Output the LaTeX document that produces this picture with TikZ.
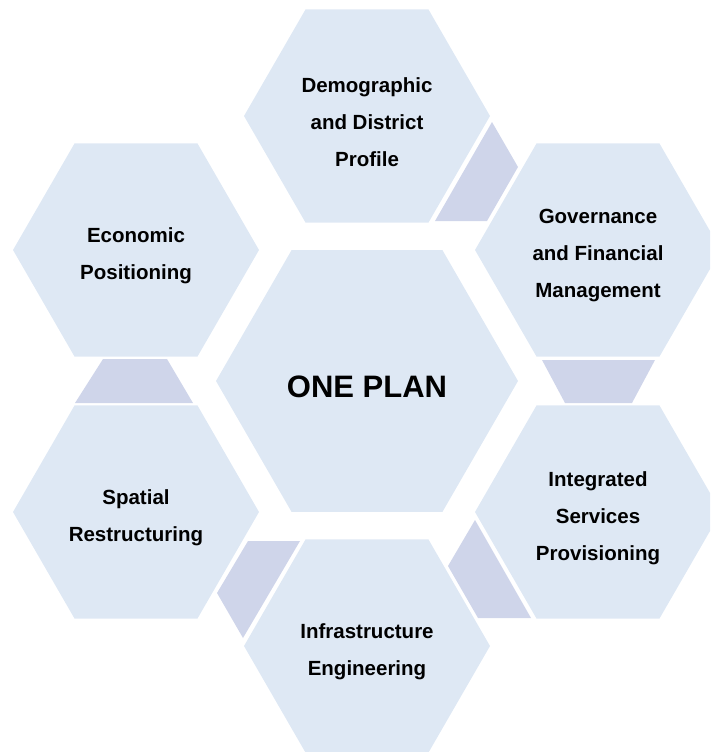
\documentclass[tikz,border=0pt]{standalone}
\usepackage{fontspec}
\setmainfont{Liberation Sans}
\usetikzlibrary{shapes.geometric}
\definecolor{hexblue}{RGB}{222,232,244}
\definecolor{linkblue}{RGB}{207,213,234}
\begin{document}
\begin{tikzpicture}[x=1pt,y=-1pt,
    hexbig/.style={regular polygon,regular polygon sides=6,minimum size=302pt,inner sep=0pt,fill=hexblue},
    hexsmall/.style={regular polygon,regular polygon sides=6,minimum size=246pt,inner sep=0pt,fill=hexblue},
    hexlabel/.style={align=center,font=\bfseries\fontsize{20.5}{37}\selectfont},
    linkpiece/.style={fill=linkblue}]
  \useasboundingbox (0,0) rectangle (710,752);
  \clip (0,0) rectangle (710,752);
        %% hexagons
        \node[hexbig] (plan) at (367,381) {};
        \node[hexsmall] (demo) at (367,116) {};
        \node[hexsmall] (gov) at (598,250) {};
        \node[hexsmall] (serv) at (598,512) {};
        \node[hexsmall] (infra) at (367,646) {};
        \node[hexsmall] (spat) at (136,512) {};
        \node[hexsmall] (econ) at (136,250) {};
        %% pieces between the outer hexagons
        \fill[linkpiece] (492,122) -- (518,167) -- (487,221) -- (435,221) -- cycle;
        \fill[linkpiece] (542,360) -- (655,360) -- (632,403) -- (565,403) -- cycle;
        \fill[linkpiece] (475,520) -- (531,618) -- (478,618) -- (448,566) -- cycle;
        \fill[linkpiece] (248,541) -- (300,541) -- (243,638) -- (217,593) -- cycle;
        \fill[linkpiece] (103,359) -- (167,359) -- (193,403) -- (75,403) -- cycle;
        %% texts
        \node[font=\bfseries\fontsize{31}{37}\selectfont] (planText) at ([yshift=-6pt]plan.center) {ONE PLAN};
        \node[hexlabel] (demoText) at ([yshift=-6pt]demo.center) {Demographic\\and District\\Profile};
        \node[hexlabel] (govText) at ([yshift=-6pt]gov.center) {Governance\\and Financial\\Management};
        \node[hexlabel] (servText) at ([yshift=-6pt]serv.center) {Integrated\\Services\\Provisioning};
        \node[hexlabel] (infraText) at ([yshift=-6pt]infra.center) {Infrastructure\\Engineering};
        \node[hexlabel] (spatText) at ([yshift=-6pt]spat.center) {Spatial\\Restructuring};
        \node[hexlabel] (econText) at ([yshift=-6pt]econ.center) {Economic\\Positioning};
\end{tikzpicture}
\end{document}
